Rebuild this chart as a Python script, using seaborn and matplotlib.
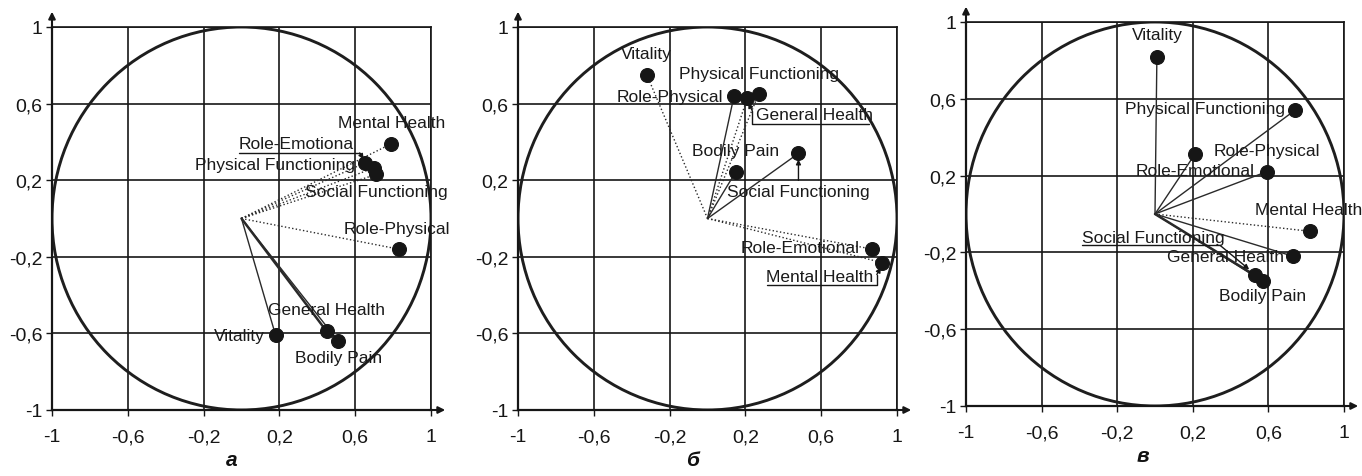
import matplotlib
matplotlib.use("Agg")
import matplotlib.pyplot as plt
import matplotlib.patches as mpatches
import pandas as pd
import seaborn as sns

# scale names, same order in every panel
variables = ["Physical Functioning", "Role-Physical", "Bodily Pain", "General Health",
             "Vitality", "Social Functioning", "Role-Emotional", "Mental Health"]

# loadings (factor 1 -> x, factor 2 -> y)
a_x = [0.70, 0.83, 0.51, 0.45, 0.18, 0.71, 0.65, 0.79]
a_y = [0.265, -0.16, -0.64, -0.59, -0.61, 0.23, 0.29, 0.39]

b_x = [0.27, 0.14, 0.15, 0.21, -0.32, 0.48, 0.87, 0.92]
b_y = [0.65, 0.64, 0.245, 0.63, 0.75, 0.34, -0.16, -0.23]

c_x = [0.74, 0.59, 0.57, 0.73, 0.01, 0.53, 0.21, 0.82]
c_y = [0.54, 0.22, -0.35, -0.22, 0.82, -0.32, 0.31, -0.09]

panel_letters = ["а", "б", "в"]
tick_values = [-1, -0.6, -0.2, 0.2, 0.6, 1]
tick_labels = ["-1", "-0,6", "-0,2", "0,2", "0,6", "1"]

# ---- layout / style (pixel offsets of labels relative to their dot) ----
label_pos = [
    {"Physical Functioning": (-19, 3, "right"), "Role-Physical": (-2, 21, "center"),
     "Bodily Pain": (0, -16, "center"), "General Health": (0, 22, "center"),
     "Vitality": (-11, 0, "right"), "Social Functioning": (0, -17, "center"),
     "Role-Emotional": (-126, 19, "left"), "Mental Health": (0, 21, "center")},
    {"Physical Functioning": (0, 21, "center"), "Role-Physical": (-11, -1, "right"),
     "Bodily Pain": (0, 21, "center"), "General Health": (9, -17, "left"),
     "Vitality": (-1, 21, "center"), "Social Functioning": (0, -38, "center"),
     "Role-Emotional": (-13, 2, "right"), "Mental Health": (-116, -14, "left")},
    {"Physical Functioning": (-10, 2, "right"), "Role-Physical": (0, 21, "center"),
     "Bodily Pain": (0, -14, "center"), "General Health": (-9, 0, "right"),
     "Vitality": (0, 22, "center"), "Social Functioning": (-173, 38, "left"),
     "Role-Emotional": (0, -16, "center"), "Mental Health": (-1, 22, "center")},
]
label_text = [{"Role-Emotional": "Role-Emotiona"}, {}, {}]

line_style = [
    {"Physical Functioning": ":", "Role-Physical": ":", "Bodily Pain": "-", "General Health": "-",
     "Vitality": "-", "Social Functioning": ":", "Role-Emotional": ":", "Mental Health": ":"},
    {"Physical Functioning": ":", "Role-Physical": "-", "Bodily Pain": "-", "General Health": ":",
     "Vitality": ":", "Social Functioning": "-", "Role-Emotional": ":", "Mental Health": ":"},
    {"Physical Functioning": "-", "Role-Physical": "-", "Bodily Pain": "-", "General Health": "-",
     "Vitality": "-", "Social Functioning": "-", "Role-Emotional": "-", "Mental Health": ":"},
]
line_width = [{"General Health": 1.8}, {}, {"Social Functioning": 1.8}]

# leader lines: polyline in pixel offsets, last segment gets an arrow head
leaders = [
    {"Role-Emotional": [(-126, 10), (-5, 10), (-1, 4)]},
    {"General Health": [(122, -26), (5, -26), (5, -13), (1, -5)],
     "Social Functioning": [(0, -27), (0, -6)],
     "Mental Health": [(-115, -22), (-5, -22), (-5, -12), (-1, -5)]},
    {"Social Functioning": [(-173, 30), (-35, 30), (-6, 6)]},
]

axes_pos = [(52, 28, 379, 383), (518, 28, 379, 383), (966, 23, 378, 384)]
letter_x = [-0.05, -0.077, -0.063]

W, H = 1362, 477
ink = "#161616"

sns.set_style("white")
plt.rcParams["font.family"] = ["Liberation Sans", "DejaVu Sans"]

fig = plt.figure(figsize=(W / 100, H / 100), dpi=100)

panels = [(a_x, a_y), (b_x, b_y), (c_x, c_y)]
for i, (xs, ys) in enumerate(panels):
    l, t, w, h = axes_pos[i]
    ax = fig.add_axes([l / W, 1 - (t + h) / H, w / W, h / H])
    df = pd.DataFrame({"variable": variables, "x": xs, "y": ys})

    for _, row in df.iterrows():
        v = row["variable"]
        ax.plot([0, row["x"]], [0, row["y"]], color="#2a2a2a",
                ls=line_style[i][v], lw=line_width[i].get(v, 1.0), zorder=3)

    sns.scatterplot(data=df, x="x", y="y", s=100, color=ink, edgecolor=None,
                    ax=ax, zorder=5, legend=False)

    ax.add_patch(mpatches.Circle((0, 0), 1, fill=False, lw=2.1, ec="#1e1e1e", zorder=2))

    ax.set_xlim(-1, 1)
    ax.set_ylim(-1, 1)
    ax.set_xticks(tick_values)
    ax.set_xticklabels(tick_labels)
    ax.set_yticks(tick_values)
    ax.set_yticklabels(tick_labels)
    ax.set_xlabel("")
    ax.set_ylabel("")
    ax.grid(True, color=ink, lw=1.2)
    ax.set_axisbelow(True)
    for s in ax.spines.values():
        s.set_color(ink)
        s.set_linewidth(1.2)
    ax.spines["left"].set_linewidth(1.6)
    ax.spines["bottom"].set_linewidth(1.6)
    ax.tick_params(axis="x", bottom=True, length=4, width=1, pad=9, labelsize=14, colors=ink)
    ax.tick_params(axis="y", left=True, length=4, width=1, pad=3, labelsize=14, colors=ink)

    # axis arrows
    ax.annotate("", xy=(-1, 1.08), xytext=(-1, 0.99),
                arrowprops=dict(arrowstyle="-|>", color=ink, lw=1.5, mutation_scale=10,
                                shrinkA=0, shrinkB=0), annotation_clip=False)
    ax.annotate("", xy=(1.075, -1), xytext=(0.99, -1),
                arrowprops=dict(arrowstyle="-|>", color=ink, lw=1.5, mutation_scale=10,
                                shrinkA=0, shrinkB=0), annotation_clip=False)

    sx = ax.bbox.width / 2
    sy = ax.bbox.height / 2

    for _, row in df.iterrows():
        v = row["variable"]
        dx, dy, ha = label_pos[i][v]
        ax.annotate(label_text[i].get(v, v), xy=(row["x"], row["y"]), xytext=(dx, dy),
                    textcoords="offset pixels", ha=ha, va="center", fontsize=12.5,
                    color="#1a1a1a", zorder=6, annotation_clip=False)
        if v in leaders[i]:
            pts = [(row["x"] + px / sx, row["y"] + py / sy) for px, py in leaders[i][v]]
            ax.plot([p[0] for p in pts[:-1]], [p[1] for p in pts[:-1]], color=ink,
                    lw=1.0, clip_on=False, zorder=6)
            ax.annotate("", xy=pts[-1], xytext=pts[-2],
                        arrowprops=dict(arrowstyle="-|>", color=ink, lw=1.0,
                                        mutation_scale=7, shrinkA=0, shrinkB=0),
                        annotation_clip=False, zorder=6)

    ax.text(letter_x[i], -0.128, panel_letters[i], transform=ax.get_xaxis_transform(),
            ha="center", va="center", fontsize=15, fontweight="bold", fontstyle="italic",
            color="#111111")

fig.savefig("out.png", dpi=100)
